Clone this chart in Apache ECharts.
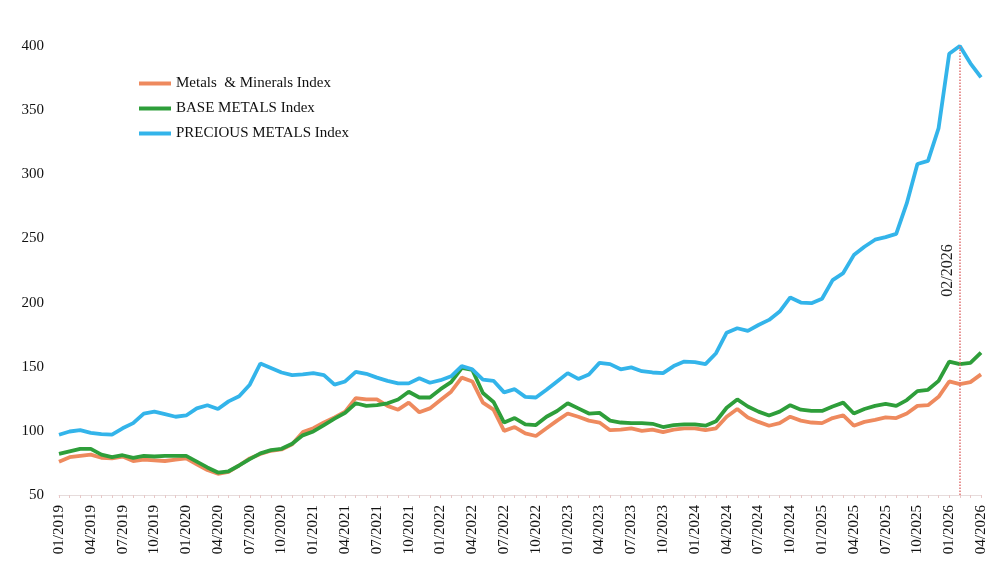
<!DOCTYPE html>
<html>
<head>
<meta charset="utf-8">
<script src="https://cdn.jsdelivr.net/npm/echarts@6/dist/echarts.min.js"></script>
<style>
html,body{margin:0;padding:0;background:#fff;}
#chart{width:1002px;height:579px;}
</style>
</head>
<body>
<div id="chart"></div>
<script>
const categories = [
"01/2019","02/2019","03/2019","04/2019","05/2019","06/2019","07/2019","08/2019","09/2019","10/2019","11/2019","12/2019",
"01/2020","02/2020","03/2020","04/2020","05/2020","06/2020","07/2020","08/2020","09/2020","10/2020","11/2020","12/2020",
"01/2021","02/2021","03/2021","04/2021","05/2021","06/2021","07/2021","08/2021","09/2021","10/2021","11/2021","12/2021",
"01/2022","02/2022","03/2022","04/2022","05/2022","06/2022","07/2022","08/2022","09/2022","10/2022","11/2022","12/2022",
"01/2023","02/2023","03/2023","04/2023","05/2023","06/2023","07/2023","08/2023","09/2023","10/2023","11/2023","12/2023",
"01/2024","02/2024","03/2024","04/2024","05/2024","06/2024","07/2024","08/2024","09/2024","10/2024","11/2024","12/2024",
"01/2025","02/2025","03/2025","04/2025","05/2025","06/2025","07/2025","08/2025","09/2025","10/2025","11/2025","12/2025",
"01/2026","02/2026","03/2026","04/2026"
];

const metalsMinerals = [
76,79.5,80.5,81.5,79,78.5,80,76.5,77.5,77,76.5,77.5,
78.5,74,69.5,66.5,68,73,78.5,82,84.5,85.5,89.5,99,
102,106.5,110.5,115,125.5,124.5,124.5,119.5,116.5,122,114.5,117.5,
124,130.5,141.5,138.5,122,116.5,100,103,98,96,102,108,
113.5,111,108,106.5,100.5,101,102,100,101,99,101,102,
102,100.5,102,111,117,110.5,107,104,106,111,108,106.5,
106,110,112,104,107,108.5,110.5,110,113.5,119.5,120,126.5,
138.5,136.5,138,144
];

const baseMetals = [
82,84,86,86,81.5,79.5,81,79,80.5,80,80.5,80.5,
80.5,76,71.5,67.5,68.5,73,78,82.5,85,86,90,96.5,
99.5,104.5,109.5,114,121.5,119.5,120,121.5,124.5,130.5,126,126,
132.5,138,149,147.5,129.5,122.5,106.5,110,105,104.5,111,115.5,
121.5,117.5,113.5,114,108,106.5,106,106,105.5,103,104.5,105,
105,104,107.5,118,124.5,119,115,112,115,120,116.5,115.5,
115.5,119,122,113.5,117,119.5,121,119.5,124,131,132,139,
154,152,153,161
];

const preciousMetals = [
97,99.5,100.5,98.5,97.5,97,102,106,113.5,115,113,111,
112,117.5,120,117,123,127,136,152.5,149,145.5,143.5,144,
145,143.5,136,138.5,146,144.5,141.5,139,137,137,141,137.5,
139.5,142.5,150.5,148,140,139,130,132.5,126.5,126,132,138.5,
145,140.5,144,153,152,148,149.5,146.5,145.5,145,150.5,154,
153.5,152,160.5,176.5,180,178,182.5,186.5,193,204,200,199.5,
203,217.5,223,237,243.5,249,251,253.5,277.5,308,310.5,336,
394,400,386.5,375.5
];

const seriesNames = ["Metals  & Minerals Index", "BASE METALS Index", "PRECIOUS METALS Index"];
const seriesColors = ["#EE8A5E", "#2E9E3A", "#33B4EA"];
const markerCategory = "02/2026";
const yTicks = { min: 50, max: 400, interval: 50 };

const serif = "'Liberation Serif', 'DejaVu Serif', serif";

const chart = echarts.init(document.getElementById('chart'), null, {renderer: 'canvas'});

function lineSeries(name, data, color, width, extra) {
  return Object.assign({
    name: name,
    type: 'line',
    data: data,
    symbol: 'none',
    showSymbol: false,
    smooth: false,
    lineStyle: { color: color, width: width },
    itemStyle: { color: color },
    emphasis: { disabled: true },
    z: 2
  }, extra || {});
}

const option = {
  backgroundColor: '#ffffff',
  animation: false,
  grid: { left: 59, right: 21, top: 46, bottom: 84, containLabel: false },
  legend: {
    orient: 'vertical',
    left: 134,
    top: 71,
    itemWidth: 32,
    itemHeight: 4,
    itemGap: 10,
    icon: 'rect',
    textStyle: { fontFamily: serif, fontSize: 15, color: '#111' },
    data: seriesNames
  },
  xAxis: {
    type: 'category',
    data: categories,
    boundaryGap: false,
    axisLine: { show: true, lineStyle: { color: '#e6dcdc', width: 1 } },
    axisTick: { show: true, interval: 0, length: 3, lineStyle: { color: '#e8c8c8' } },
    axisLabel: {
      interval: 2,
      rotate: 90,
      margin: 10,
      fontFamily: serif,
      fontSize: 15,
      color: '#111'
    },
    splitLine: { show: false }
  },
  yAxis: {
    type: 'value',
    min: yTicks.min,
    max: yTicks.max,
    interval: yTicks.interval,
    axisLine: { show: false },
    axisTick: { show: false },
    splitLine: { show: false },
    axisLabel: { fontFamily: serif, fontSize: 15, color: '#111', margin: 15 }
  },
  series: [
    lineSeries(seriesNames[0], metalsMinerals, seriesColors[0], 3.8),
    lineSeries(seriesNames[1], baseMetals, seriesColors[1], 3.8),
    lineSeries(seriesNames[2], preciousMetals, seriesColors[2], 3.8, {
      markLine: {
        silent: true,
        symbol: ['none', 'none'],
        animation: false,
        lineStyle: { color: '#E07070', type: 'dotted', width: 1.5 },
        label: {
          show: true,
          formatter: markerCategory,
          position: 'insideMiddleTop',
          distance: 4,
          fontFamily: serif,
          fontSize: 16,
          color: '#222'
        },
        data: [{ xAxis: markerCategory }]
      }
    })
  ]
};

chart.setOption(option);
</script>
</body>
</html>
